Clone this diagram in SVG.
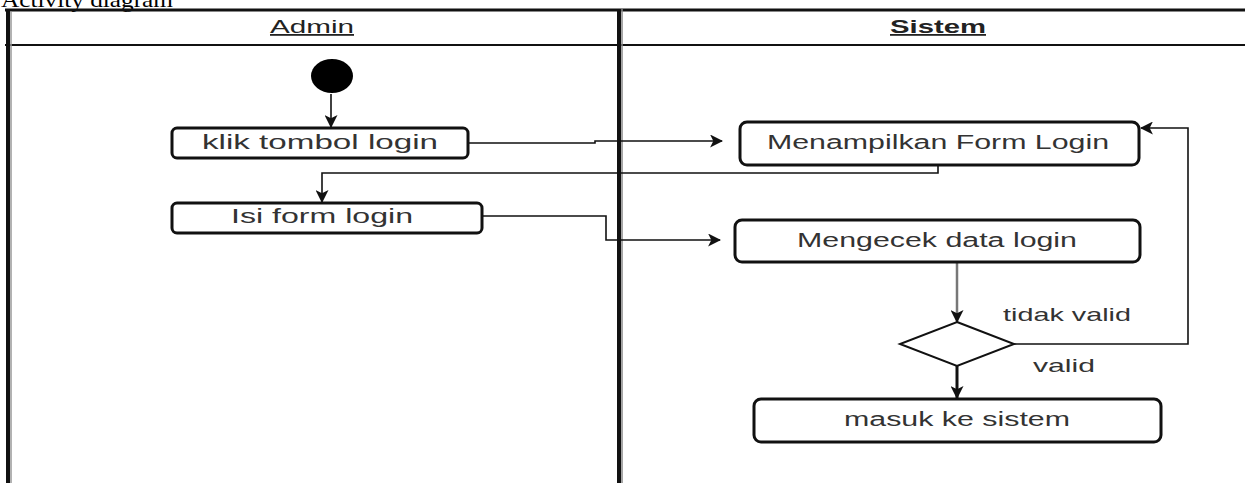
<svg xmlns="http://www.w3.org/2000/svg" width="1245" height="483" viewBox="0 0 1245 483">
  <defs>
    <style>
      .lane { stroke: #111; fill: none; }
      .node { fill: #fff; stroke: #111; stroke-width: 3; }
      .lbl { font-family: "Liberation Sans", Arial, sans-serif; font-size: 20px; fill: #333; text-anchor: middle; }
      .hdr { font-family: "Liberation Sans", Arial, sans-serif; font-size: 18px; fill: #222; text-anchor: middle; text-decoration: underline; }
      .edge { fill: none; stroke: #111; stroke-width: 1.6; }
      .guard { font-family: "Liberation Sans", Arial, sans-serif; font-size: 19px; fill: #333; }
    </style>
    <marker id="arrow" viewBox="0 0 12 12" refX="11" refY="6" markerWidth="13" markerHeight="13" markerUnits="userSpaceOnUse" orient="auto">
      <path d="M0,0 L12,6 L0,12 L3,6 Z" fill="#111"/>
    </marker>
  </defs>

  <rect width="1245" height="483" fill="#fff"/>

  <!-- page caption -->
  <text x="1" y="7" font-family="Liberation Serif, serif" font-size="21" fill="#000" textLength="172" lengthAdjust="spacingAndGlyphs">Activity diagram</text>

  <!-- swimlanes -->
  <g id="lanes">
    <line class="lane" x1="5" y1="10" x2="1245" y2="10" stroke-width="3"/>
    <line class="lane" x1="5" y1="45" x2="1245" y2="45" stroke-width="2"/>
    <line class="lane" x1="8" y1="9" x2="8" y2="483" stroke-width="4"/>
    <line x1="11" y1="12" x2="11" y2="483" stroke="#999" stroke-width="1.5"/>
    <line class="lane" x1="619" y1="9" x2="619" y2="483" stroke-width="4"/>
    <line x1="622" y1="9" x2="622" y2="483" stroke="#888" stroke-width="1.5"/>
    <text class="hdr" x="312" y="33" textLength="84" lengthAdjust="spacingAndGlyphs">Admin</text>
    <text class="hdr" x="938" y="33" font-weight="bold" textLength="96" lengthAdjust="spacingAndGlyphs">Sistem</text>
  </g>

  <!-- connectors -->
  <g id="connectors">
    <path class="edge" d="M331,94 L331,127" marker-end="url(#arrow)"/>
    <path class="edge" d="M469,143 L595,143 L595,141 L722,141" marker-end="url(#arrow)"/>
    <path class="edge" d="M938,166 L938,173 L322,173 L322,202" marker-end="url(#arrow)"/>
    <path class="edge" d="M483,216 L606,216 L606,240 L720,240" marker-end="url(#arrow)"/>
    <path d="M957,263 L957,322" fill="none" stroke="#777" stroke-width="2.5" marker-end="url(#arrow)"/>
    <path class="edge" d="M1014,344 L1188,344 L1188,128 L1141,128" marker-end="url(#arrow)"/>
    <path d="M957,366 L957,398" fill="none" stroke="#111" stroke-width="3" marker-end="url(#arrow)"/>
    <text class="guard" x="1003" y="321" textLength="128" lengthAdjust="spacingAndGlyphs">tidak valid</text>
    <text class="guard" x="1033" y="372" textLength="62" lengthAdjust="spacingAndGlyphs">valid</text>
  </g>

  <!-- nodes -->
  <g id="start">
    <ellipse cx="332" cy="76" rx="21" ry="17" fill="#000"/>
  </g>
  <g id="klik-tombol-login">
    <rect class="node" x="172" y="128" width="296" height="30" rx="5"/>
    <text class="lbl" x="320" y="149" textLength="236" lengthAdjust="spacingAndGlyphs">klik tombol login</text>
  </g>
  <g id="isi-form-login">
    <rect class="node" x="172" y="203" width="310" height="30" rx="5"/>
    <text class="lbl" x="322" y="223" textLength="182" lengthAdjust="spacingAndGlyphs">Isi form login</text>
  </g>
  <g id="menampilkan-form-login">
    <rect class="node" x="740" y="122" width="399" height="43" rx="7"/>
    <text class="lbl" x="938" y="149" textLength="342" lengthAdjust="spacingAndGlyphs">Menampilkan Form Login</text>
  </g>
  <g id="mengecek-data-login">
    <rect class="node" x="735" y="220" width="405" height="42" rx="7"/>
    <text class="lbl" x="937" y="247" textLength="280" lengthAdjust="spacingAndGlyphs">Mengecek data login</text>
  </g>
  <g id="decision">
    <polygon points="957,322 1014,344 957,366 900,344" fill="#fff" stroke="#111" stroke-width="2"/>
  </g>
  <g id="masuk-ke-sistem">
    <rect class="node" x="754" y="399" width="407" height="43" rx="7"/>
    <text class="lbl" x="957" y="426" textLength="226" lengthAdjust="spacingAndGlyphs">masuk ke sistem</text>
  </g>
</svg>
